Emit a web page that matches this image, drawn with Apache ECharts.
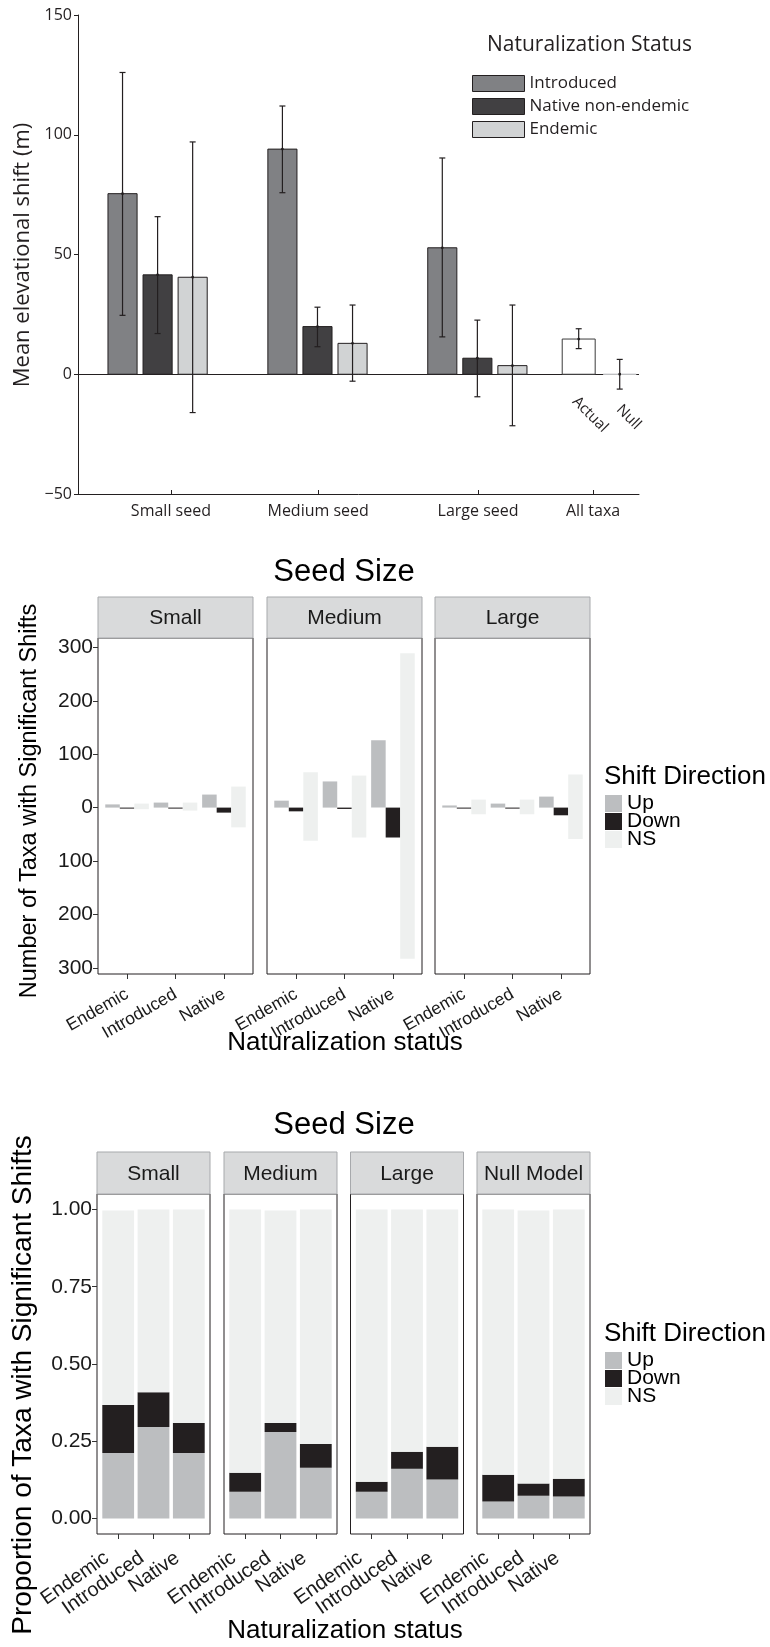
<!DOCTYPE html>
<html>
<head>
<meta charset="utf-8">
<script src="https://cdn.jsdelivr.net/npm/echarts@6/dist/echarts.min.js"></script>
<style>
  html, body { margin: 0; padding: 0; background: #fff; }
  #main { width: 770px; height: 1647px; }
</style>
</head>
<body>
<div id="main"></div>
<script>
// ---------- panel 1: mean elevational shift ----------
const seedGroups = ['Small seed', 'Medium seed', 'Large seed', 'All taxa'];
const statusNames = ['Introduced', 'Native non-endemic', 'Endemic'];

const introducedMean = [75.4, 94.0, 52.8];
const introducedLow = [24.6, 75.8, 15.6];
const introducedHigh = [126.0, 112.0, 90.3];

const nativeMean = [41.5, 19.9, 6.7];
const nativeLow = [17.0, 11.5, -9.4];
const nativeHigh = [65.8, 28.0, 22.6];

const endemicMean = [40.5, 12.9, 3.6];
const endemicLow = [-16.0, -2.9, -21.5];
const endemicHigh = [97.0, 28.9, 28.9];

const allTaxaLabels = ['Actual', 'Null'];
const allTaxaMean = [14.7, 0];
const allTaxaLow = [10.7, -6.2];
const allTaxaHigh = [19.0, 6.2];

// ---------- panel 2: number of taxa with significant shifts ----------
const countFacets = ['Small', 'Medium', 'Large'];
const statusCats = ['Endemic', 'Introduced', 'Native'];
const countUp = [[6, 9.4, 24.4], [13, 49, 126], [4, 7.5, 20.6]];
const countDown = [[-1.5, -1.5, -9.4], [-7, -2.5, -56], [-1.5, -1, -14.4]];
const countNSLow = [[-3, -5.6, -37], [-62, -56, -283], [-12.5, -12.5, -59]];
const countNSHigh = [[7.5, 9.4, 39.4], [66, 60, 289], [15, 15, 62]];

// ---------- panel 3: proportion of taxa with significant shifts ----------
const propFacets = ['Small', 'Medium', 'Large', 'Null Model'];
const propUp = [[0.212, 0.296, 0.212], [0.087, 0.280, 0.164], [0.087, 0.161, 0.126], [0.055, 0.074, 0.071]];
const propDown = [[0.155, 0.113, 0.097], [0.061, 0.029, 0.077], [0.032, 0.055, 0.106], [0.087, 0.039, 0.058]];
const propNS = [[0.630, 0.591, 0.691], [0.852, 0.688, 0.759], [0.881, 0.784, 0.768], [0.858, 0.884, 0.871]];

// ---------- layout ----------
const topX = {
    center: [2.27, 6.83, 11.39],   // middle bar of each seed group (slot units)
    offsets: [-1, 0, 1],
    barWidth: 0.83,
    allCenter: [14.28, 15.45],
    allWidth: 0.94,
    ticks: [2.65, 6.85, 11.41, 14.69],
    labelOffset: [[-4, 25], [-1, 33]]
};
const midP = { left: [98, 267, 435], width: 155, top: 638, height: 336, strip: 41 };
const botP = { left: [97, 224, 350.5, 477], width: 113, top: 1194, height: 340, strip: 42 };

const dirColors = { Up: '#bcbec0', Down: '#231f20', NS: '#eef0ef' };
const statusColors = ['#808184', '#414042', '#d1d3d4'];
const ink = '#231f20';
const sans = 'Liberation Sans';
const myriad = 'Open Sans';

var chartDom = document.getElementById('main');
var myChart = echarts.init(chartDom);

function errorBarItem(fillFn, strokeFn, width, labelFn) {
    return function (params, api) {
        const x = api.value(0), m = api.value(1), lo = api.value(2), hi = api.value(3);
        const a = api.coord([x - width / 2, m]);
        const b = api.coord([x + width / 2, 0]);
        const top = api.coord([x, hi]);
        const bot = api.coord([x, lo]);
        const cap = 3;
        const i = params.dataIndex;
        const children = [
            { type: 'rect', shape: { x: a[0], y: Math.min(a[1], b[1]), width: b[0] - a[0], height: Math.abs(b[1] - a[1]) },
              style: { fill: fillFn(i), stroke: strokeFn(i), lineWidth: 1 } },
            { type: 'line', shape: { x1: top[0], y1: top[1], x2: bot[0], y2: bot[1] }, style: { stroke: ink, lineWidth: 1.2 } },
            { type: 'line', shape: { x1: top[0] - cap, y1: top[1], x2: top[0] + cap, y2: top[1] }, style: { stroke: ink, lineWidth: 1.2 } },
            { type: 'line', shape: { x1: bot[0] - cap, y1: bot[1], x2: bot[0] + cap, y2: bot[1] }, style: { stroke: ink, lineWidth: 1.2 } },
            { type: 'circle', shape: { cx: top[0], cy: a[1], r: 1.4 }, style: { fill: ink } }
        ];
        if (labelFn) {
            const z = api.coord([x, 0]);
            const off = topX.labelOffset[i];
            children.push({ type: 'text', x: z[0] + off[0], y: z[1] + off[1], rotation: -Math.PI / 4,
                style: { text: labelFn(i), fontFamily: myriad, fontSize: 15, fill: ink, align: 'left', verticalAlign: 'middle' } });
        }
        return { type: 'group', children };
    };
}

function rangeBarItem(color, offset, width) {
    return function (params, api) {
        const x = api.value(0);
        const p0 = api.coord([x + offset - width / 2, api.value(2)]);
        const p1 = api.coord([x + offset + width / 2, api.value(1)]);
        return { type: 'rect', shape: { x: p0[0], y: p0[1], width: p1[0] - p0[0], height: Math.max(p1[1] - p0[1], 1) },
                 style: { fill: color } };
    };
}

const grids = [];
const xAxes = [];
const yAxes = [];
const series = [];
const graphics = [];

// ---------- panel 1 ----------
grids.push({ left: 78, top: 15, width: 561, height: 479 });
xAxes.push({
    type: 'value', gridIndex: 0, min: 0, max: 16,
    axisLine: { show: true, onZero: false, lineStyle: { color: ink, width: 1 } },
    splitLine: { show: false },
    axisTick: { show: true, inside: true, length: 4, customValues: topX.ticks, lineStyle: { color: ink } },
    axisLabel: { customValues: topX.ticks, formatter: v => seedGroups[topX.ticks.indexOf(v)],
                 fontFamily: myriad, fontSize: 16, color: ink, margin: 9 }
});
yAxes.push({
    type: 'value', gridIndex: 0, min: -50, max: 150, interval: 50,
    axisLine: { show: true, onZero: false, lineStyle: { color: ink, width: 1 } },
    splitLine: { show: false },
    axisTick: { show: true, length: 4, lineStyle: { color: ink } },
    axisLabel: { fontFamily: myriad, fontSize: 16, color: ink, margin: 6,
                 formatter: v => (v < 0 ? '\u2212' + Math.abs(v) : String(v)) }
});

const topMeans = [introducedMean, nativeMean, endemicMean];
const topLows = [introducedLow, nativeLow, endemicLow];
const topHighs = [introducedHigh, nativeHigh, endemicHigh];
statusNames.forEach((name, s) => {
    const data = topMeans[s].map((m, i) => [topX.center[i] + topX.offsets[s], m, topLows[s][i], topHighs[s][i]]);
    const item = {
        type: 'custom', name: name, xAxisIndex: 0, yAxisIndex: 0, z: 3,
        itemStyle: { color: statusColors[s] },
        renderItem: errorBarItem(() => statusColors[s], () => ink, topX.barWidth),
        encode: { x: 0, y: 1 },
        data: data
    };
    if (s === 0) {
        item.markLine = { silent: true, symbol: 'none', label: { show: false }, z: 1,
                          lineStyle: { color: ink, width: 1, type: 'solid' }, data: [{ yAxis: 0 }] };
    }
    series.push(item);
});
series.push({
    type: 'custom', name: 'All taxa', xAxisIndex: 0, yAxisIndex: 0, z: 4,
    renderItem: errorBarItem(() => '#ffffff', i => (i === 0 ? '#3a3a3a' : '#c9cacc'), topX.allWidth, i => allTaxaLabels[i]),
    encode: { x: 0, y: 1 },
    data: allTaxaMean.map((m, i) => [topX.allCenter[i], m, allTaxaLow[i], allTaxaHigh[i]])
});

graphics.push({ type: 'text', x: 23, y: 255, rotation: Math.PI / 2,
    style: { text: 'Mean elevational shift (m)', fontFamily: myriad, fontSize: 22, fill: ink, align: 'center', verticalAlign: 'middle' } });
graphics.push({ type: 'text', x: 487, y: 45,
    style: { text: 'Naturalization Status', fontFamily: myriad, fontSize: 21, fill: ink, align: 'left', verticalAlign: 'middle' } });

// ---------- facet helpers ----------
function facetAxes(gi, yMin, yMax, yTicks, yFmt, showY, lab) {
    xAxes.push({
        type: 'value', gridIndex: gi, min: 0.4, max: 3.6,
        axisLine: { show: false, onZero: false }, splitLine: { show: false },
        axisTick: { show: true, customValues: [1, 2, 3], length: 5, lineStyle: { color: '#333' } },
        axisLabel: { customValues: [1, 2, 3], rotate: lab.rotate, margin: lab.margin, hideOverlap: false,
                     showMinLabel: true, showMaxLabel: true, padding: [0, lab.pad, 0, 0],
                     formatter: v => statusCats[v - 1],
                     fontFamily: sans, fontSize: lab.size, color: '#1a1a1a' }
    });
    yAxes.push({
        type: 'value', gridIndex: gi, min: yMin, max: yMax, show: showY,
        axisLine: { show: false, onZero: false }, splitLine: { show: false },
        axisTick: { show: true, customValues: yTicks, length: 5, lineStyle: { color: '#333' } },
        axisLabel: { customValues: yTicks, formatter: yFmt, margin: 5, fontFamily: sans, fontSize: 21, color: '#1a1a1a' }
    });
}
function strip(left, top, width, height, text) {
    graphics.push({ type: 'rect', shape: { x: left, y: top, width: width, height: height },
                    style: { fill: '#d9dadb', stroke: '#a7a9ac', lineWidth: 1 } });
    graphics.push({ type: 'text', x: left + width / 2, y: top + height / 2 + 1,
                    style: { text: text, fontFamily: sans, fontSize: 21, fill: '#1a1a1a', align: 'center', verticalAlign: 'middle' } });
}

// ---------- panel 2 ----------
const countTicks = [-300, -200, -100, 0, 100, 200, 300];
countFacets.forEach((facet, f) => {
    const gi = grids.length;
    grids.push({ left: midP.left[f], top: midP.top, width: midP.width, height: midP.height,
                 show: true, borderColor: ink, borderWidth: 1 });
    facetAxes(gi, -311.6, 317.6, countTicks, v => String(Math.abs(v)), f === 0,
              { rotate: 30, margin: 19, pad: 0, size: 17.5 });
    strip(midP.left[f], midP.top - midP.strip, midP.width, midP.strip, facet);
    const ranges = {
        Up: countUp[f].map((v, i) => [i + 1, 0, v]),
        Down: countDown[f].map((v, i) => [i + 1, v, 0]),
        NS: countNSLow[f].map((v, i) => [i + 1, v, countNSHigh[f][i]])
    };
    ['Up', 'Down', 'NS'].forEach((dir, k) => {
        series.push({
            type: 'custom', name: dir, xAxisIndex: gi, yAxisIndex: gi,
            itemStyle: { color: dirColors[dir] },
            renderItem: rangeBarItem(dirColors[dir], (k - 1) * 0.3, 0.3),
            encode: { x: 0, y: [1, 2] },
            data: ranges[dir]
        });
    });
});
graphics.push({ type: 'text', x: 344, y: 572, style: { text: 'Seed Size', fontFamily: sans, fontSize: 31, fill: '#000', align: 'center', verticalAlign: 'middle' } });
graphics.push({ type: 'text', x: 30, y: 801, rotation: Math.PI / 2,
    style: { text: 'Number of Taxa with Significant Shifts', fontFamily: sans, fontSize: 23.5, fill: '#000', align: 'center', verticalAlign: 'middle' } });
graphics.push({ type: 'text', x: 345, y: 1043, style: { text: 'Naturalization status', fontFamily: sans, fontSize: 26, fill: '#000', align: 'center', verticalAlign: 'middle' } });
graphics.push({ type: 'text', x: 604, y: 777, style: { text: 'Shift Direction', fontFamily: sans, fontSize: 26, fill: '#000', align: 'left', verticalAlign: 'middle' } });

// ---------- panel 3 ----------
const propTicks = [0, 0.25, 0.5, 0.75, 1];
propFacets.forEach((facet, f) => {
    const gi = grids.length;
    grids.push({ left: botP.left[f], top: botP.top, width: botP.width, height: botP.height,
                 show: true, borderColor: ink, borderWidth: 1 });
    facetAxes(gi, -0.05, 1.05, propTicks, v => v.toFixed(2), f === 0,
              { rotate: 35, margin: 14, pad: 14, size: 20 });
    strip(botP.left[f], botP.top - botP.strip, botP.width, botP.strip, facet);
    const up = propUp[f], down = propDown[f], ns = propNS[f];
    const ranges = {
        Up: up.map((v, i) => [i + 1, 0, v]),
        Down: down.map((v, i) => [i + 1, up[i], up[i] + v]),
        NS: ns.map((v, i) => [i + 1, up[i] + down[i], up[i] + down[i] + v])
    };
    ['Up', 'Down', 'NS'].forEach(dir => {
        series.push({
            type: 'custom', name: dir, xAxisIndex: gi, yAxisIndex: gi,
            itemStyle: { color: dirColors[dir] },
            renderItem: rangeBarItem(dirColors[dir], 0, 0.9),
            encode: { x: 0, y: [1, 2] },
            data: ranges[dir]
        });
    });
});
graphics.push({ type: 'text', x: 344, y: 1125, style: { text: 'Seed Size', fontFamily: sans, fontSize: 31, fill: '#000', align: 'center', verticalAlign: 'middle' } });
graphics.push({ type: 'text', x: 23, y: 1385, rotation: Math.PI / 2,
    style: { text: 'Proportion of Taxa with Significant Shifts', fontFamily: sans, fontSize: 28, fill: '#000', align: 'center', verticalAlign: 'middle' } });
graphics.push({ type: 'text', x: 345, y: 1631, style: { text: 'Naturalization status', fontFamily: sans, fontSize: 26, fill: '#000', align: 'center', verticalAlign: 'middle' } });
graphics.push({ type: 'text', x: 604, y: 1334, style: { text: 'Shift Direction', fontFamily: sans, fontSize: 26, fill: '#000', align: 'left', verticalAlign: 'middle' } });

const dirLegend = top => ({
    data: ['Up', 'Down', 'NS'], orient: 'vertical', left: 605, top: top,
    itemWidth: 17, itemHeight: 17, itemGap: -3, icon: 'rect', padding: 0, selectedMode: false,
    textStyle: { fontFamily: sans, fontSize: 21, lineHeight: 18, color: '#000' }
});

var option = {
    animation: false,
    backgroundColor: '#ffffff',
    grid: grids,
    xAxis: xAxes,
    yAxis: yAxes,
    legend: [
        { data: statusNames, orient: 'vertical', left: 472, top: 75, itemWidth: 52, itemHeight: 16, itemGap: 6,
          icon: 'rect', padding: 0, selectedMode: false,
          itemStyle: { borderColor: ink, borderWidth: 1 },
          textStyle: { fontFamily: myriad, fontSize: 17, color: ink } },
        dirLegend(793),
        dirLegend(1350)
    ],
    graphic: graphics,
    series: series
};
option && myChart.setOption(option);
</script>
</body>
</html>
